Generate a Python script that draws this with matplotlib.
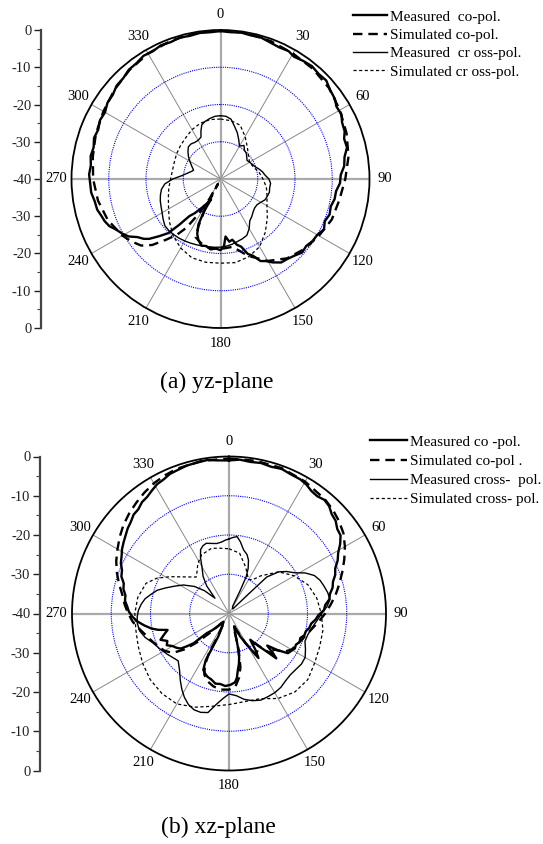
import numpy as np
import matplotlib
matplotlib.use("Agg")
import matplotlib.pyplot as plt
from matplotlib.lines import Line2D

plt.rcParams['font.family'] = ['Liberation Serif', 'DejaVu Serif']

# ---- (a) yz-plane, angle in degrees / level in dB ----
yz_meas_co_ang = [0, 4, 8, 12, 16, 20, 24, 28, 31, 35, 39, 43, 47, 51, 55, 58, 62, 65, 69, 72, 76, 80, 84, 88,
                  92, 96, 100, 104, 108, 112, 116, 120, 124, 128, 132, 136, 140, 144, 148, 151, 154, 157, 160,
                  163, 166, 169, 172, 175, 177, 180, 184, 188, 192, 196, 200, 203, 206, 207, 205, 209, 213, 217,
                  220, 222, 224, 227, 230, 232, 235, 238, 241, 244, 247, 250, 253, 256, 260, 264, 268, 272, 276,
                  280, 284, 288, 292, 296, 300, 304, 308, 312, 316, 320, 324, 328, 332, 336, 340, 344, 348, 352,
                  356, 360]
yz_meas_co_db = [-0.3, -0.5, -0.3, -0.6, -0.5, -1.0, -1.3, -1.1, -1.7, -1.3, -1.0, -1.4, -1.2, -2.1, -2.5, -3.3,
                 -3.2, -4.0, -4.3, -5.1, -5.0, -6.2, -6.6, -7.7, -7.9, -8.8, -8.9, -9.5, -9.2, -9.8, -9.1, -10.0,
                 -10.2, -10.8, -10.5, -11.4, -12.0, -12.3, -13.6, -14.8, -15.5, -17.6, -18.6, -21.0, -21.8, -23.4,
                 -23.0, -24.5, -22.0, -20.9, -21.3, -20.9, -21.6, -21.4, -22.6, -24.0, -26.5, -30.5, -34.0, -32.5,
                 -30.8, -28.5, -27.0, -23.5, -19.8, -17.5, -15.0, -13.9, -12.8, -10.9, -9.8, -8.9, -7.6, -6.9,
                 -6.5, -5.9, -5.7, -5.1, -5.0, -4.7, -5.0, -4.6, -4.9, -4.3, -4.6, -4.0, -4.2, -3.4, -3.3, -2.5,
                 -2.4, -1.7, -1.6, -1.0, -1.2, -0.7, -0.9, -0.5, -0.7, -0.4, -0.5, -0.3]

yz_sim_co_ang = [0, 10, 20, 30, 40, 50, 60, 70, 80, 90, 100, 110, 120, 130, 140, 150, 160, 170, 180, 190, 197,
                 203, 205, 207, 207.5, 209, 212, 215, 218, 222, 226, 230, 235, 240, 250, 260, 270, 280, 290, 300,
                 310, 320, 330, 340, 350, 360]
yz_sim_co_db = [-0.1, -0.2, -0.6, -1.1, -1.4, -2.0, -3.0, -4.0, -5.1, -6.5, -7.6, -8.2, -9.5, -10.7, -12.2, -14.6,
                -18.0, -21.5, -21.2, -21.3, -22.0, -23.0, -26.0, -30.5, -38.5, -34.0, -29.0, -24.0, -21.0, -18.0,
                -14.5, -12.2, -10.8, -9.6, -7.8, -6.6, -5.8, -5.2, -4.4, -3.7, -2.8, -1.9, -1.1, -0.6, -0.2, -0.1]

yz_meas_x_ang = [0, 5, 10, 15, 20, 25, 30, 35, 40, 45, 50, 55, 60, 65, 70, 75, 80, 85, 90, 95, 100, 105, 110, 115,
                 120, 125, 130, 135, 140, 145, 150, 155, 160, 165, 170, 175, 180, 185, 190, 195, 200, 205, 210,
                 215, 220, 225, 230, 235, 240, 245, 250, 255, 260, 265, 270, 275, 280, 285, 288, 295, 300, 305,
                 310, 315, 320, 325, 330, 335, 338, 341, 345, 350, 355, 360]
yz_meas_x_db = [-23.0, -23.1, -23.7, -25.4, -26.8, -28.4, -29.8, -29.0, -30.0, -30.2, -30.8, -31.3, -31.0, -30.6,
                -30.2, -29.4, -28.6, -28.0, -27.0, -26.5, -26.6, -26.4, -26.6, -26.8, -27.5, -28.0, -28.0, -27.6,
                -26.9, -26.3, -24.6, -23.3, -22.9, -22.6, -22.2, -21.9, -21.7, -21.6, -21.5, -21.4, -21.2, -21.0,
                -20.8, -20.6, -20.5, -20.4, -20.5, -21.2, -21.9, -22.4, -22.8, -23.3, -23.9, -25.0, -27.2, -29.6,
                -31.0, -32.0, -32.4, -31.4, -30.5, -29.5, -28.6, -27.8, -27.7, -28.0, -28.0, -27.6, -26.0, -24.6,
                -24.0, -23.5, -23.1, -23.0]

yz_sim_x_ang = list(range(0, 361, 10))
yz_sim_x_db = [-23.9, -24.1, -24.6, -26.8, -28.8, -30.2, -31.0, -30.6, -29.5, -28.6, -27.5, -26.7, -25.6, -23.6,
               -21.3, -19.0, -17.8, -17.2, -17.4, -17.3, -17.5, -18.6, -20.2, -22.1, -23.9, -25.1, -25.9, -26.6,
               -26.9, -26.8, -26.4, -26.0, -25.5, -24.7, -24.1, -23.8, -23.9]

# ---- (b) xz-plane ----
xz_meas_co_ang = [0, 4, 8, 12, 16, 20, 24, 28, 31, 34, 37, 40, 43, 46, 49, 52, 55, 58, 61, 64, 67, 70, 73, 76,
                  79, 82, 85, 88, 91, 94, 97, 100, 103, 106, 109, 112, 115, 118, 121, 124, 127, 130, 132, 133.5,
                  135, 138, 141, 144, 146.5, 148, 151, 154, 158, 162, 165, 167, 169, 171, 173, 175, 179, 183, 187,
                  191, 195, 199, 202, 204.5, 206.5, 206, 205, 208, 214, 220, 225, 228.5, 230, 232, 234, 237, 240,
                  243, 246, 249, 252, 255, 257, 259, 262, 265, 268, 271, 274, 277, 280, 283, 286, 289, 292, 295,
                  298, 301, 304, 307, 310, 313, 316, 319, 322, 325, 328, 331, 334, 337, 340, 344, 348, 352, 356,
                  360]
xz_meas_co_db = [-1.0, -0.7, -1.0, -0.8, -1.1, -0.8, -1.2, -1.3, -1.7, -2.4, -2.6, -2.2, -2.6, -3.6, -4.0, -5.0,
                 -5.3, -6.6, -8.2, -9.2, -10.6, -11.2, -12.3, -12.8, -13.8, -14.2, -15.4, -15.8, -17.2, -17.9,
                 -18.9, -19.2, -19.9, -20.0, -20.8, -20.6, -21.2, -21.0, -21.5, -21.9, -24.5, -27.3, -25.0, -23.4,
                 -26.0, -29.0, -31.4, -28.5, -26.4, -28.5, -31.5, -33.5, -36.5, -35.0, -31.5, -28.5, -26.8, -25.5,
                 -23.5, -22.4, -21.8, -21.5, -21.9, -21.8, -22.6, -23.0, -23.6, -24.2, -26.7, -30.0, -33.5, -36.5,
                 -37.5, -36.0, -34.0, -32.4, -28.2, -26.5, -24.8, -24.0, -23.4, -22.2, -22.8, -21.3, -22.6, -23.8,
                 -21.5, -19.9, -18.2, -16.6, -15.4, -14.5, -14.0, -13.3, -13.2, -12.4, -12.1, -11.0, -10.6, -9.6,
                 -9.0, -8.2, -7.6, -7.0, -6.3, -5.8, -5.0, -4.8, -4.0, -3.7, -3.0, -2.3, -2.0, -1.4, -1.2, -0.8,
                 -0.7, -0.5, -0.9, -1.0]

xz_sim_co_ang = [0, 10, 20, 30, 40, 45, 50, 55, 60, 65, 70, 75, 80, 85, 90, 95, 100, 105, 110, 115, 120, 125, 129,
                 132, 135, 139, 143, 147, 151, 156, 161, 165, 168, 171, 175, 180, 186, 192, 197, 202, 205, 207,
                 206, 210, 218, 224, 228, 231, 235, 240, 245, 250, 255, 260, 265, 270, 275, 280, 285, 290, 295,
                 300, 305, 310, 315, 320, 325, 330, 335, 340, 350, 360]
xz_sim_co_db = [-0.5, -0.5, -0.6, -1.2, -2.0, -2.6, -3.4, -4.4, -5.9, -7.6, -9.3, -10.9, -12.4, -14.0, -15.5,
                -17.0, -18.4, -19.5, -20.3, -21.0, -21.6, -23.0, -25.5, -24.0, -26.5, -30.0, -28.0, -27.5, -31.5,
                -35.5, -36.5, -30.5, -26.0, -23.5, -21.3, -20.6, -20.5, -21.0, -21.8, -23.2, -25.5, -29.0, -34.0,
                -37.5, -37.0, -33.5, -29.0, -25.5, -22.5, -21.0, -20.2, -19.2, -18.2, -16.9, -15.4, -14.3, -13.3,
                -12.4, -11.0, -9.6, -8.3, -7.2, -6.0, -4.9, -4.0, -3.2, -2.4, -1.7, -1.2, -0.8, -0.5, -0.5]

xz_meas_x_ang = [0, 3, 6, 9, 13, 17, 20, 23, 25, 26, 27, 40, 45, 46, 50, 54, 58, 62, 66, 70, 74, 78, 82, 86, 90,
                 95, 100, 105, 110, 115, 120, 125, 130, 135, 140, 145, 150, 155, 160, 165, 170, 175, 180, 184, 188,
                 192, 196, 200, 204, 208, 212, 216, 221, 227, 232, 237, 243, 249, 254, 259, 264, 268, 272, 276,
                 280, 284, 288, 292, 297, 302, 308, 313, 317.5, 321, 325, 330, 333, 336, 339, 342, 346, 350, 354,
                 357, 360]
xz_meas_x_db = [-21.0, -20.6, -20.3, -21.5, -23.4, -24.3, -25.5, -27.5, -29.6, -33.5, -38.0, -38.5, -33.0, -26.6,
                -23.5, -21.8, -20.4, -18.0, -16.2, -15.3, -14.8, -14.3, -14.0, -15.0, -16.4, -17.6, -18.6, -19.2,
                -19.4, -18.5, -17.6, -17.5, -17.8, -17.9, -17.6, -17.0, -16.7, -16.6, -16.5, -17.0, -17.8, -19.0,
                -19.5, -18.3, -16.6, -14.2, -13.8, -13.9, -14.6, -15.8, -17.3, -18.9, -20.8, -22.3, -21.8, -21.1,
                -20.2, -19.2, -17.8, -16.8, -16.5, -16.6, -16.9, -17.5, -18.3, -19.6, -20.8, -22.6, -24.6, -26.3,
                -28.8, -31.5, -34.7, -31.0, -28.5, -26.2, -24.0, -22.2, -21.5, -21.2, -21.6, -21.9, -21.7, -21.3,
                -21.0]

xz_sim_x_ang = [0, 10, 20, 25, 30, 35, 40, 50, 55, 60, 70, 80, 90, 100, 110, 120, 130, 140, 150, 160, 170, 180,
                190, 200, 210, 220, 230, 240, 250, 260, 270, 280, 290, 296, 302, 310, 318, 323, 328, 335, 345,
                352, 360]
xz_sim_x_db = [-23.5, -24.4, -27.5, -29.0, -30.0, -29.5, -27.5, -23.5, -22.3, -20.8, -18.6, -17.3, -16.5, -15.7,
               -15.4, -14.8, -13.8, -13.9, -15.0, -16.9, -17.2, -16.8, -16.0, -14.6, -13.4, -13.4, -13.8, -14.6,
               -15.4, -15.9, -16.0, -16.4, -17.5, -19.5, -22.3, -25.5, -27.5, -26.5, -25.0, -23.5, -22.8, -23.2,
               -23.5]

angle_ticks = list(range(0, 360, 30))
angle_labels = [str(a) for a in angle_ticks]
ring_levels = [-30, -20, -10]
scale_labels = ["0", "-10", "-20", "-30", "-40", "-30", "-20", "-10", "0"]

yz_legend = ["Measured  co-pol.", "Simulated co-pol.", "Measured  cr oss-pol.", "Simulated cr oss-pol."]
xz_legend = ["Measured co -pol.", "Simulated co-pol .", "Measured cross-  pol.", "Simulated cross- pol."]

W, H = 543, 844
fig = plt.figure(figsize=(W / 100, H / 100), dpi=100)

styles = [dict(color='k', lw=1.7),
          dict(color='k', lw=1.7, dashes=(4, 2.5)),
          dict(color='k', lw=1.0),
          dict(color='k', lw=0.9, dashes=(2.5, 2))]


def px_rect(cx, cy, r):
    return [(cx - r) / W, 1 - (cy + r) / H, 2 * r / W, 2 * r / H]


def polar_panel(cx, cy, r, curves):
    ax = fig.add_axes(px_rect(cx, cy, r), projection='polar')
    ax.set_theta_zero_location('N')
    ax.set_theta_direction(-1)
    ax.set_ylim(-40, 0)
    ax.set_rgrids(ring_levels, labels=[''] * len(ring_levels))
    ax.set_thetagrids(angle_ticks, angle_labels, fontsize=10.5)
    ax.yaxis.grid(True, color='blue', ls=(0, (1, 1)), lw=0.8)
    ax.xaxis.grid(True, color='#888888', lw=0.7)
    for a, gl in zip(angle_ticks, ax.xaxis.get_gridlines()):
        if a % 90 == 0:
            gl.set_linewidth(1.6)
            gl.set_color('#aaaaaa')
    ax.set_xticks(np.deg2rad(np.arange(15, 360, 30)), minor=True)
    ax.tick_params(axis='x', which='major', direction='in', length=6, width=1.0, pad=4)
    ax.tick_params(axis='x', which='minor', direction='in', length=4, width=0.8)
    ax.spines['polar'].set_linewidth(1.3)
    for (ang, db), st in zip(curves, styles):
        ax.plot(np.deg2rad(ang), db, **st)
    return ax


def scale_bar(x, cy, r):
    sx = fig.add_axes([x / W, 1 - (cy + r) / H, 0.01, 2 * r / H])
    sx.set_xlim(0, 1)
    sx.set_ylim(-4, 4)
    sx.patch.set_visible(False)
    for s in ['top', 'right', 'bottom']:
        sx.spines[s].set_visible(False)
    sx.spines['left'].set_linewidth(1.6)
    sx.spines['left'].set_color('#444444')
    sx.set_xticks([])
    sx.set_yticks(np.arange(-4, 5), labels=scale_labels, fontsize=10.5)
    sx.set_yticks(np.arange(-3.5, 4, 1), minor=True)
    sx.tick_params(axis='y', which='major', length=5, width=1.0, pad=2, colors='#222222')
    sx.tick_params(axis='y', which='minor', length=3, width=0.8, colors='#444444')


polar_panel(220.5, 179, 149, [(yz_meas_co_ang, yz_meas_co_db), (yz_sim_co_ang, yz_sim_co_db),
                              (yz_meas_x_ang, yz_meas_x_db), (yz_sim_x_ang, yz_sim_x_db)])
scale_bar(41, 179, 149)

polar_panel(229, 613.5, 157, [(xz_meas_co_ang, xz_meas_co_db), (xz_sim_co_ang, xz_sim_co_db),
                              (xz_meas_x_ang, xz_meas_x_db), (xz_sim_x_ang, xz_sim_x_db)])
scale_bar(40, 613.5, 157)

handles = [Line2D([], [], **st) for st in styles]
fig.legend(handles, yz_legend, loc='upper left', bbox_to_anchor=(353 / W, 1 - 10 / H), frameon=False,
           borderpad=0, borderaxespad=0, handlelength=2.2, handletextpad=0.25, labelspacing=0.3, fontsize=11)
fig.legend(handles, xz_legend, loc='upper left', bbox_to_anchor=(370 / W, 1 - 435 / H), frameon=False,
           borderpad=0, borderaxespad=0, handlelength=2.4, handletextpad=0.2, labelspacing=0.36, fontsize=11)

fig.text(217 / W, 1 - 382 / H, "(a) yz-plane", ha='center', va='center', fontsize=17)
fig.text(218 / W, 1 - 827 / H, "(b) xz-plane", ha='center', va='center', fontsize=17)

fig.savefig("out.png", dpi=100)
